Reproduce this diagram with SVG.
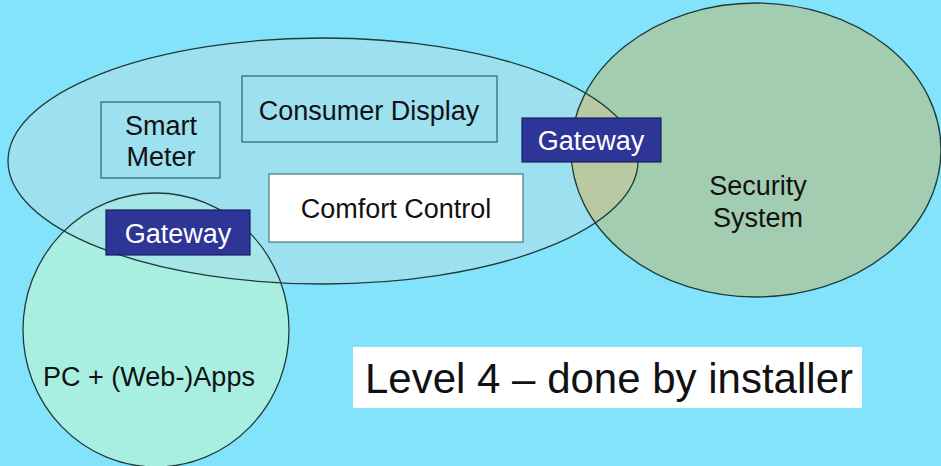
<svg xmlns="http://www.w3.org/2000/svg" width="941" height="466" viewBox="0 0 941 466">
  <style>
    text { font-family: "Liberation Sans", Arial, sans-serif; fill: #111; text-anchor: middle; }
    .lbl { font-size: 27px; }
    .gw rect { fill: #2D3596; stroke: #1a1f5c; stroke-width: 1.2; }
    .gw text { fill: #fff; font-size: 27px; }
    .box { fill: none; stroke: #2f5f6a; stroke-width: 1.2; }
    .edge { fill: none; stroke: #1f3a3a; stroke-width: 1.3; }
  </style>
  <defs>
    <ellipse id="home-shape" cx="323" cy="161" rx="315" ry="123"/>
    <ellipse id="sec-shape" cx="756" cy="150" rx="185" ry="147"/>
    <ellipse id="pc-shape" cx="156" cy="330" rx="133" ry="137"/>
    <clipPath id="clip-home"><use href="#home-shape"/></clipPath>
  </defs>
  <rect width="941" height="466" fill="#82E3FB"/>

  <!-- domains: fills first, outlines on top so both edges show in overlaps -->
  <g id="home-area">
    <use href="#home-shape" fill="#9DE0EF"/>
  </g>
  <g id="pc-apps">
    <use href="#pc-shape" fill="#A8EFE1"/>
    <use href="#pc-shape" fill="#A6E6E6" clip-path="url(#clip-home)"/>
    <text class="lbl" x="149" y="386">PC + (Web-)Apps</text>
  </g>
  <g id="security-system">
    <use href="#sec-shape" fill="#A2CDB1"/>
    <use href="#sec-shape" fill="#B9C9A2" clip-path="url(#clip-home)"/>
    <text class="lbl" x="758" y="195">Security</text>
    <text class="lbl" x="758" y="227">System</text>
  </g>
  <g id="outlines">
    <use href="#home-shape" class="edge"/>
    <use href="#pc-shape" class="edge"/>
    <use href="#sec-shape" class="edge"/>
  </g>

  <!-- devices -->
  <g id="smart-meter">
    <rect class="box" x="101" y="102" width="119" height="76"/>
    <text class="lbl" x="161" y="135">Smart</text>
    <text class="lbl" x="161" y="166">Meter</text>
  </g>
  <g id="consumer-display">
    <rect class="box" x="242" y="76" width="255" height="66"/>
    <text class="lbl" x="369" y="120">Consumer Display</text>
  </g>
  <g id="comfort-control">
    <rect x="269" y="174" width="254" height="68" fill="#fff" stroke="#2f5f6a" stroke-width="1"/>
    <text class="lbl" x="396" y="218">Comfort Control</text>
  </g>
  <g id="gateway-pc" class="gw">
    <rect x="106" y="210" width="144" height="45"/>
    <text x="178" y="243">Gateway</text>
  </g>
  <g id="gateway-security" class="gw">
    <rect x="522" y="118" width="139" height="44"/>
    <text x="591" y="150">Gateway</text>
  </g>

  <g id="connectors"></g>

  <g id="caption">
    <rect x="353" y="347" width="509" height="61" fill="#fff"/>
    <text x="609" y="393" style="font-size:42px">Level 4 – done by installer</text>
  </g>
</svg>
